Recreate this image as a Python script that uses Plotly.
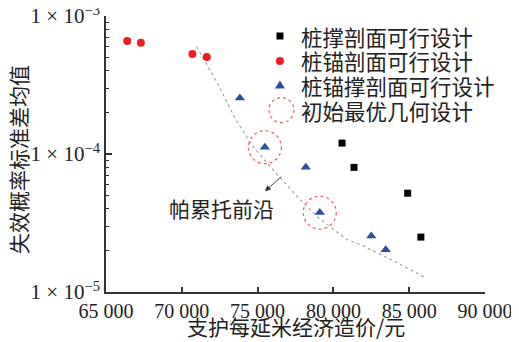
import plotly.graph_objects as go

# ---- data ----
strut_x = [80570, 81360, 84900, 85770]
strut_y = [1.20e-4, 8.0e-5, 5.2e-5, 2.5e-5]

anchor_x = [66400, 67300, 70700, 71650]
anchor_y = [6.6e-4, 6.4e-4, 5.3e-4, 5.05e-4]

combo_x = [73830, 75480, 78180, 79100, 82500, 83450]
combo_y = [2.55e-4, 1.12e-4, 8.0e-5, 3.76e-5, 2.55e-5, 2.02e-5]

init_x = [75480, 79100]
init_y = [1.12e-4, 3.76e-5]

pareto_x = [70977, 72400, 73500, 74600, 75695, 76467, 77785, 78970, 80862, 81956, 84157, 86134]
pareto_y = [6.0e-4, 3.18e-4, 1.825e-4, 1.17e-4, 8.4e-5, 6.73e-5, 4.69e-5, 3.48e-5, 2.41e-5, 2.16e-5, 1.64e-5, 1.26e-5]

x_ticks = [65000, 70000, 75000, 80000, 85000, 90000]
x_ticktext = ["65 000", "70 000", "75 000", "80 000", "85 000", "90 000"]
y_ticks = [1e-5, 1e-4, 1e-3]
y_ticktext = ["1 × 10<sup>−5</sup>", "1 × 10<sup>−4</sup>", "1 × 10<sup>−3</sup>"]
y_minor = [m * 10 ** e for e in (-5, -4) for m in range(2, 10)]

labels = ["桩撑剖面可行设计", "桩锚剖面可行设计", "桩锚撑剖面可行设计", "初始最优几何设计"]

RED = "#ee1d23"
BLUE = "#2c4c9c"
CJK = "Noto Sans CJK SC"
SERIF = "Liberation Serif"

X_RANGE = [65000, 90000]
Y_RANGE = [-5, -3]
# the page body adds an 8 px offset, so the figure is 8 px smaller and shifted
W, H = 511, 334
ML, MR, MT, MB = 98, 34, 8, 50
px_per_x = (W - ML - MR) / (X_RANGE[1] - X_RANGE[0])
px_per_dec = (H - MT - MB) / (Y_RANGE[1] - Y_RANGE[0])
R_CIRC = 16.5

fig = go.Figure()
fig.add_trace(go.Scatter(x=pareto_x, y=pareto_y, mode="lines",
                         line=dict(color="#a0a0a0", width=1.1, dash="dot"),
                         showlegend=False, hoverinfo="skip"))
fig.add_trace(go.Scatter(x=strut_x, y=strut_y, mode="markers", name=labels[0],
                         marker=dict(symbol="square", size=7, color="black")))
fig.add_trace(go.Scatter(x=anchor_x, y=anchor_y, mode="markers", name=labels[1],
                         marker=dict(symbol="circle", size=8, color=RED)))
fig.add_trace(go.Scatter(x=combo_x, y=combo_y, mode="markers", name=labels[2],
                         marker=dict(symbol="triangle-up", size=9, color=BLUE)))

# dotted circles around initial optimum designs (radius given in pixels)
for cx, cy in zip(init_x, init_y):
    dx = R_CIRC / px_per_x
    fy = 10 ** (R_CIRC / px_per_dec)
    fig.add_shape(type="circle", xref="x", yref="y",
                  x0=cx - dx, x1=cx + dx, y0=cy / fy, y1=cy * fy,
                  line=dict(color="#f06060", width=1.2, dash="dot"))

# ---- manual legend ----
sym_x = 0.459
rows_y = [0.9275, 0.837, 0.750, 0.659]
fig.add_shape(type="rect", xref="paper", yref="paper", xsizemode="pixel", ysizemode="pixel",
              xanchor=sym_x, yanchor=rows_y[0], x0=-3.5, x1=3.5, y0=-3.5, y1=3.5,
              fillcolor="black", line=dict(width=0))
fig.add_shape(type="circle", xref="paper", yref="paper", xsizemode="pixel", ysizemode="pixel",
              xanchor=sym_x, yanchor=rows_y[1], x0=-4, x1=4, y0=-4, y1=4,
              fillcolor=RED, line=dict(width=0))
fig.add_shape(type="path", xref="paper", yref="paper", xsizemode="pixel", ysizemode="pixel",
              xanchor=sym_x, yanchor=rows_y[2], path="M -5 -3.5 L 5 -3.5 L 0 4.5 Z",
              fillcolor=BLUE, line=dict(width=0))
fig.add_shape(type="circle", xref="paper", yref="paper", xsizemode="pixel", ysizemode="pixel",
              xanchor=sym_x + 0.004, yanchor=rows_y[3], x0=-12.5, x1=12.5, y0=-12.5, y1=12.5,
              line=dict(color="#f06060", width=1.2, dash="dot"))
for lab, ry in zip(labels, rows_y):
    fig.add_annotation(text=lab, xref="paper", yref="paper", x=0.508, y=ry,
                       xanchor="left", yanchor="middle", showarrow=False,
                       font=dict(family=CJK, size=21.5, color="#222"))

# Pareto front label and arrow
fig.add_annotation(text="帕累托前沿", xref="paper", yref="paper", x=0.305, y=0.303,
                   xanchor="center", yanchor="middle", showarrow=False,
                   font=dict(family=CJK, size=21, color="#222"))
fig.add_annotation(text="", xref="x", yref="y", x=75478, y=-4.27, ax=17, ay=-15,
                   showarrow=True, arrowhead=2, arrowsize=1.3, arrowwidth=0.9, arrowcolor="#333",
                   standoff=0, startstandoff=0, borderpad=0, font=dict(size=1))

# axis titles
fig.add_annotation(text="支护每延米经济造价/元", xref="paper", yref="paper", x=0.5, y=-0.123,
                   xanchor="center", yanchor="middle", showarrow=False,
                   font=dict(family=CJK, size=21, color="#222"))
fig.add_annotation(text="失效概率标准差均值", xref="paper", yref="paper", x=-0.2335, y=0.48,
                   xanchor="center", yanchor="middle", showarrow=False, textangle=-90,
                   font=dict(family=CJK, size=21, color="#222"))

axis_common = dict(showgrid=False, zeroline=False, showline=True, linecolor="#333",
                   linewidth=1.5, ticks="inside", tickcolor="#333", tickwidth=1.5,
                   automargin=False, ticklabeloverflow="allow")
fig.update_xaxes(range=X_RANGE, tickvals=x_ticks, ticktext=x_ticktext, ticklen=5,
                 tickfont=dict(family=SERIF, size=20, color="#222"), **axis_common)
fig.update_yaxes(type="log", range=Y_RANGE, tickvals=y_ticks, ticktext=y_ticktext, ticklen=6,
                 tickfont=dict(family=SERIF, size=21, color="#222"),
                 minor=dict(ticks="inside", ticklen=3, tickvals=y_minor, tickcolor="#333", tickwidth=1.2),
                 **axis_common)

fig.update_layout(width=W, height=H, margin=dict(l=ML, r=MR, t=MT, b=MB),
                  plot_bgcolor="white", paper_bgcolor="white", showlegend=False)

fig.write_html("out.html")
